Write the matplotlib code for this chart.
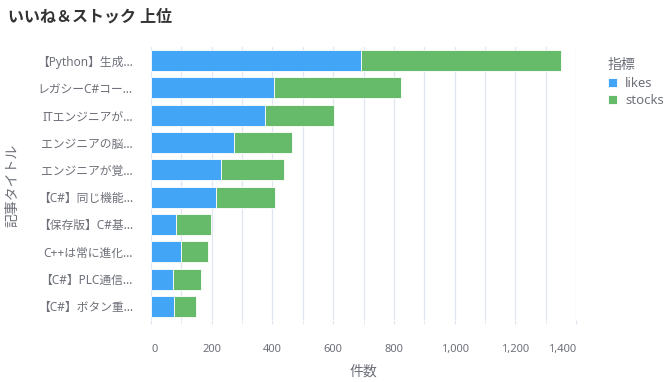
import matplotlib
matplotlib.use("Agg")
import matplotlib.pyplot as plt
from matplotlib.ticker import FuncFormatter

plt.rcParams['font.family'] = ['Noto Sans', 'Noto Sans CJK JP', 'DejaVu Sans']

# data (top to bottom as shown)
titles = [
    "【Python】生成…",
    "レガシーC#コー…",
    "ITエンジニアが…",
    "エンジニアの脳…",
    "エンジニアが覚…",
    "【C#】同じ機能…",
    "【保存版】C#基…",
    "C++は常に進化…",
    "【C#】PLC通信…",
    "【C#】ボタン重…",
]
likes = [692, 406, 376, 272, 232, 213, 82, 100, 73, 77]
stocks = [660, 417, 227, 192, 207, 197, 114, 88, 91, 72]

blue = "#42A5F5"
green = "#66BB6A"
txt = "#6e7079"

fig = plt.figure(figsize=(6.68, 3.82), dpi=100)
ax = fig.add_axes([151/668, 1-320/382, (576-151)/668, (320-47)/382])

y = list(range(len(titles)))
ax.barh(y, likes, height=0.77, color=blue, edgecolor="white", linewidth=0.6, label="likes", zorder=2)
ax.barh(y, stocks, left=likes, height=0.77, color=green, edgecolor="white", linewidth=0.6, label="stocks", zorder=2)

ax.set_ylim(len(titles)-0.5, -0.5)
ax.set_xlim(0, 1400)
ax.set_yticks(y)
ax.set_yticklabels(titles, fontsize=8.5, color=txt)
ax.set_xticks(range(0, 1401, 200))
ax.xaxis.set_major_formatter(FuncFormatter(lambda v, p: "{:,}".format(int(v))))
ax.set_xticks(range(0, 1401, 100), minor=True)
for lab in ax.get_xticklabels():
    lab.set_fontsize(8)
    lab.set_color(txt)
ax.get_xticklabels()[-1].set_ha("right")
ax.get_xticklabels()[0].set_ha("left")

ax.grid(axis="x", which="both", color="#e0e6f1", linewidth=0.9, zorder=0)
ax.tick_params(axis="y", length=0, pad=13)
ax.tick_params(axis="x", which="both", length=3, color="#e0e6f1", pad=14)
for s in ax.spines.values():
    s.set_visible(False)

ax.set_xlabel("件数", fontsize=10, color=txt, labelpad=7)
fig.text(13/668, 1-185/382, "記事タイトル", rotation=90, fontsize=10, color=txt, ha="center", va="center")

fig.text(8/668, 1-18/382, "いいね＆ストック 上位", fontsize=11.5, fontweight="bold", color="#333333", ha="left", va="center")

leg = fig.legend(loc="upper left", bbox_to_anchor=(596/668, 1-46/382), frameon=False,
                 title="指標", fontsize=9.5, title_fontsize=10, handlelength=0.7, handleheight=0.7,
                 handletextpad=0.6, labelspacing=0.3, alignment="left")
for t in leg.get_texts():
    t.set_color(txt)
leg.get_title().set_color(txt)

fig.savefig("out.png", dpi=100)
